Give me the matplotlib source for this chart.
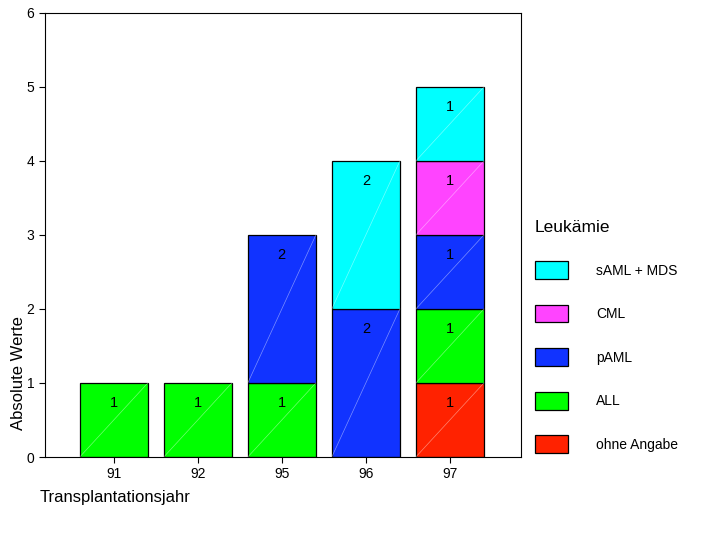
import matplotlib.pyplot as plt
import numpy as np
from matplotlib.patches import Patch

plt.rcParams['font.family'] = ['Liberation Sans', 'DejaVu Sans']

years = ['91', '92', '95', '96', '97']
categories = ['ohne Angabe', 'ALL', 'pAML', 'CML', 'sAML + MDS']
colors = ['#ff2200', '#00ff00', '#1133ff', '#ff44ff', '#00ffff']
counts = {
    'ohne Angabe': [0, 0, 0, 0, 1],
    'ALL': [1, 1, 1, 0, 1],
    'pAML': [0, 0, 2, 2, 1],
    'CML': [0, 0, 0, 0, 1],
    'sAML + MDS': [0, 0, 0, 2, 1],
}

fig = plt.figure(figsize=(7.01, 5.40), dpi=100)
ax = fig.add_axes([0.064, 0.1537, 0.679, 0.8223])

x = np.arange(len(years))
width = 0.81
bottom = np.zeros(len(years))
for cat, col in zip(categories, colors):
    vals = np.array(counts[cat], dtype=float)
    for i, v in enumerate(vals):
        if v <= 0:
            continue
        ax.bar(x[i], v, width, bottom=bottom[i], color=col, edgecolor='black', linewidth=0.9)
        # faint diagonal seen in the original fill
        ax.plot([x[i] - width / 2, x[i] + width / 2], [bottom[i], bottom[i] + v],
                color='white', lw=0.5, alpha=0.45)
        ax.text(x[i], bottom[i] + v - 0.27, f'{int(v)}', ha='center', va='center', fontsize=10.5)
    bottom += vals

ax.set_xlim(-0.82, 4.845)
ax.set_ylim(0, 6)
ax.set_xticks(x)
ax.set_xticklabels(years, fontsize=10)
ax.set_yticks(range(7))
ax.tick_params(axis='both', labelsize=10, length=4, width=0.8)
for s in ax.spines.values():
    s.set_linewidth(0.8)

fig.text(0.026, 0.31, 'Absolute Werte', rotation=90, ha='center', va='center', fontsize=12)
fig.text(0.057, 0.078, 'Transplantationsjahr', ha='left', va='center', fontsize=12)

handles = [Patch(facecolor=c, edgecolor='black', linewidth=0.9) for c in colors][::-1]
leg = fig.legend(handles, categories[::-1], title='Leukämie', loc='upper left',
                 bbox_to_anchor=(0.745, 0.615), frameon=False, fontsize=10,
                 title_fontsize=12.5, handlelength=2.4, handleheight=1.6,
                 labelspacing=1.85, handletextpad=2.0, alignment='left')

fig.savefig('out.png', dpi=100)
